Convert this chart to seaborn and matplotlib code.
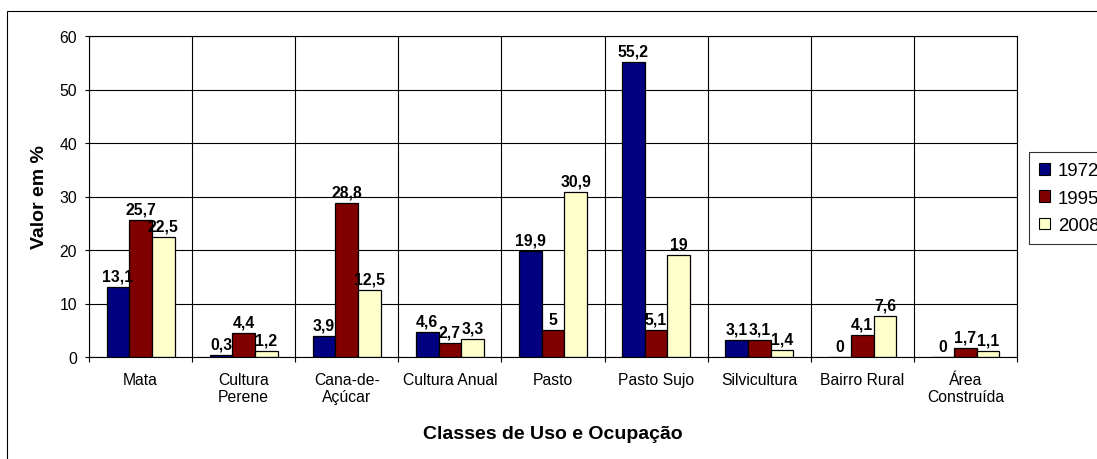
"""Clustered bar chart of land use classes (1972, 1995, 2008), Excel-like style."""

import pandas as pd
import seaborn as sns
import matplotlib.pyplot as plt
from matplotlib.patches import Rectangle

# --- data -----------------------------------------------------------------
categories = [
    "Mata",
    "Cultura\nPerene",
    "Cana-de-\nAçúcar",
    "Cultura Anual",
    "Pasto",
    "Pasto Sujo",
    "Silvicultura",
    "Bairro Rural",
    "Área\nConstruída",
]
years = ["1972", "1995", "2008"]
values_1972 = [13.1, 0.3, 3.9, 4.6, 19.9, 55.2, 3.1, 0, 0]
values_1995 = [25.7, 4.4, 28.8, 2.7, 5, 5.1, 3.1, 4.1, 1.7]
values_2008 = [22.5, 1.2, 12.5, 3.3, 30.9, 19, 1.4, 7.6, 1.1]
colors = ["#000080", "#800000", "#FFFFCC"]

series = {"1972": values_1972, "1995": values_1995, "2008": values_2008}
rows = []
for year, vals in series.items():
    for cat, val in zip(categories, vals):
        rows.append({"Classe": cat, "Ano": year, "Valor": val})
df = pd.DataFrame(rows)

# --- style ----------------------------------------------------------------
sns.set_style("white")
plt.rcParams["font.family"] = ["Liberation Sans", "DejaVu Sans"]
plt.rcParams["text.color"] = "black"
plt.rcParams["axes.labelcolor"] = "black"
plt.rcParams["xtick.color"] = "black"
plt.rcParams["ytick.color"] = "black"

W, H = 1097, 460
fig = plt.figure(figsize=(W / 100, H / 100), dpi=100)
ax = fig.add_axes([89 / W, 1 - 358 / H, (1017 - 89) / W, (358 - 37) / H])

sns.barplot(
    data=df, x="Classe", y="Valor", hue="Ano", hue_order=years,
    order=categories, palette=colors, width=0.66, gap=0,
    edgecolor="black", linewidth=0.9, saturation=1, legend=False, ax=ax,
)

# value labels (decimal comma)
for cont, year in zip(ax.containers, years):
    labels = [f"{v:g}".replace(".", ",") for v in series[year]]
    ax.bar_label(cont, labels=labels, padding=2.5, fontsize=11.3,
                 fontweight="bold", color="black")

# axes, grid and ticks
ax.set_ylim(0, 60)
ax.set_xlim(-0.5, len(categories) - 0.5)
ax.set_yticks(range(0, 61, 10))
ax.set_xticks(range(len(categories)))
ax.set_xticklabels(categories)
ax.set_xticks([i - 0.5 for i in range(len(categories) + 1)], minor=True)
ax.grid(axis="y", color="black", linewidth=0.8)
ax.grid(axis="x", which="minor", color="black", linewidth=0.8)
ax.set_axisbelow(True)
ax.tick_params(axis="x", which="major", length=0, pad=10.5, labelsize=11.3)
ax.tick_params(axis="x", which="minor", length=3.5, width=0.8, direction="out",
               color="black", bottom=True)
ax.tick_params(axis="y", length=3, width=0.8, direction="out", color="black",
               pad=5.5, labelsize=11.3, left=True)
for side in ax.spines.values():
    side.set_color("black")
    side.set_linewidth(0.8)

ax.set_xlabel("Classes de Uso e Ocupação", fontsize=14, fontweight="bold")
ax.set_ylabel("Valor em %", fontsize=14, fontweight="bold")
ax.xaxis.set_label_coords(0.5, -0.212)
ax.yaxis.set_label_coords(-0.044, 0.5)

# legend (runs off the right edge like the original)
handles = [Rectangle((0, 0), 1, 1, facecolor=c, edgecolor="black", linewidth=0.8)
           for c in colors]
leg = fig.legend(
    handles, years, loc="upper left", bbox_to_anchor=(1029 / W, 1 - 153 / H),
    fontsize=13.4, frameon=True, fancybox=False, shadow=False,
    handlelength=0.6, handleheight=0.6, handletextpad=0.4,
    labelspacing=0.56, borderpad=0.55, borderaxespad=0,
)
leg.get_frame().set_edgecolor("black")
leg.get_frame().set_linewidth(0.8)

# outer chart border
fig.patches.append(Rectangle((7 / W, -0.1), 2, 1.1 - 12 / H, transform=fig.transFigure,
                             fill=False, edgecolor="black", linewidth=0.8))

fig.savefig("out.png", dpi=100)
